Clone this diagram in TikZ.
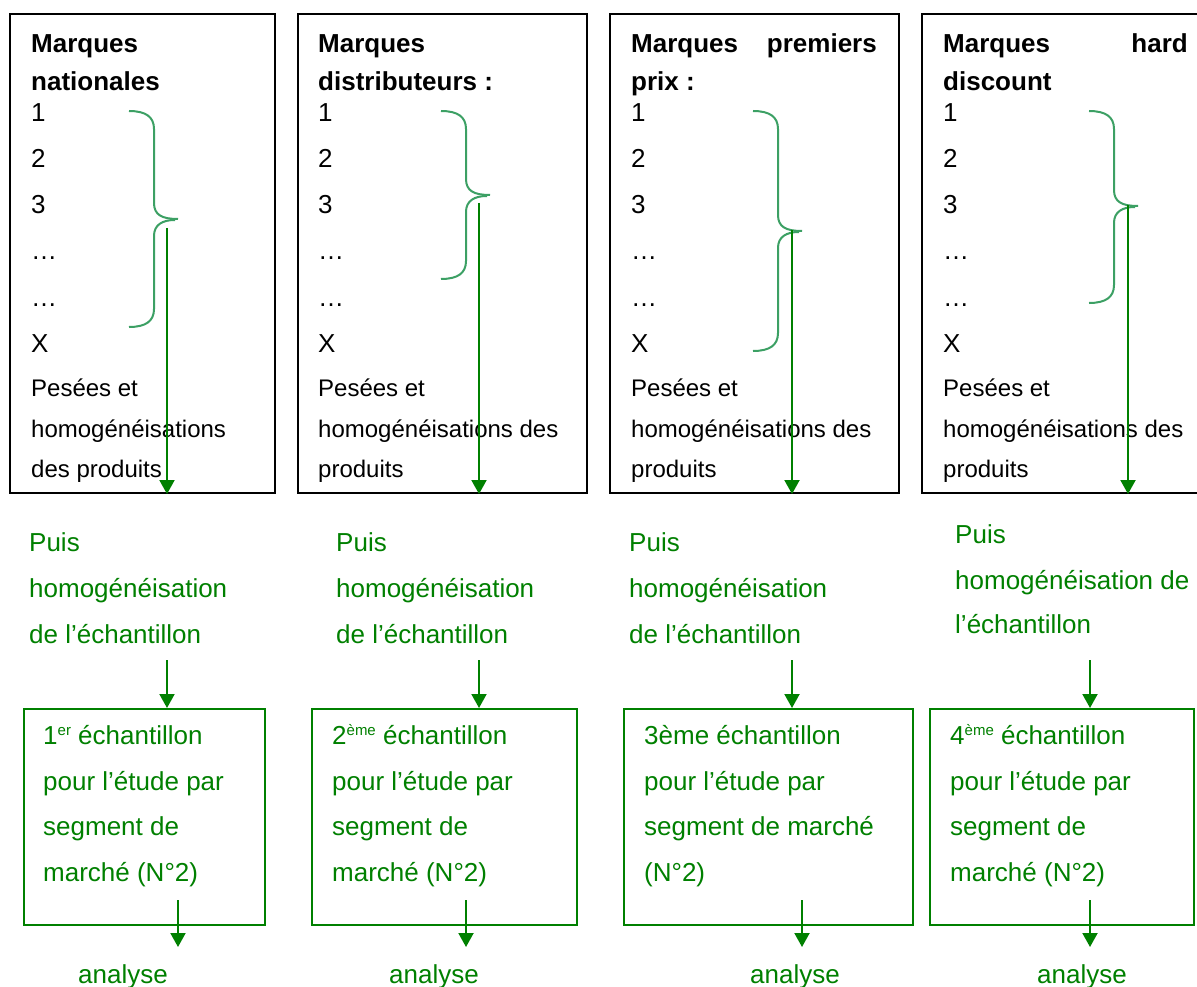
\documentclass[tikz,border=0pt]{standalone}
\usepackage{fontspec}
\setmainfont{Liberation Sans}
\usetikzlibrary{arrows.meta}
\definecolor{arrgreen}{RGB}{0,128,0}
\definecolor{bracegreen}{RGB}{60,160,100}
\newcommand\greenbrace[4]{%
  \draw[brace] (#1,#2) .. controls ({#1+17},#2) and ({#1+25},{#2+6}) .. ({#1+25},{#2+18})
    -- ({#1+25},{#3-16}) .. controls ({#1+25},{#3-4}) and ({#1+33},#3) .. ({#1+49},#3);
  \draw[brace] ({#1+46},{#3+1}) .. controls ({#1+33},{#3+1}) and ({#1+25},{#3+6}) .. ({#1+25},{#3+17})
    -- ({#1+25},{#4-18}) .. controls ({#1+25},{#4-6}) and ({#1+17},#4) .. (#1,#4);
}
\newcommand\supr[1]{\raisebox{9pt}{\fontsize{15}{15}\selectfont #1}}
\tikzset{
  big/.style={font=\fontsize{26}{30}\selectfont, inner sep=0pt, anchor=base west},
  bigb/.style={font=\fontsize{26}{30}\selectfont\bfseries, inner sep=0pt, anchor=base west},
  small/.style={font=\fontsize{24}{28}\selectfont, inner sep=0pt, anchor=base west},
  gtext/.style={big, text=arrgreen},
  topbox/.style={draw=black, line width=2pt, inner sep=0pt, anchor=north west},
  gbox/.style={draw=arrgreen, line width=2pt, inner sep=0pt, anchor=north west},
  flow/.style={draw=arrgreen, line width=2pt, -{Triangle[length=14pt,width=15pt]}},
  brace/.style={draw=bracegreen, line width=2pt},
}
\begin{document}
\begin{tikzpicture}[x=1pt,y=-1pt]
\useasboundingbox (0,0) rectangle (1197,987);
\fill[white] (0,0) rectangle (1197,987);

% top boxes
\node[topbox, minimum width=265pt, minimum height=479pt] (B1) at (9,13) {};
\node[topbox, minimum width=289pt, minimum height=479pt] (B2) at (297,13) {};
\node[topbox, minimum width=289pt, minimum height=479pt] (B3) at (609,13) {};
\node[topbox, minimum width=290pt, minimum height=479pt] (B4) at (921,13) {};

% top box texts
\begin{scope}
\clip (0,0) rectangle (1197,481);
\node[bigb] (t1a) at (31,53) {Marques};
\node[bigb] (t1b) at (31,91) {nationales};
\node[bigb] (t2a) at (318,53) {Marques};
\node[bigb] (t2b) at (318,91) {distributeurs :};
\node[bigb] (t3a) at (631,53) {Marques};
\node[bigb, anchor=base east] (t3c) at (877,53) {premiers};
\node[bigb] (t3b) at (631,91) {prix :};
\node[bigb] (t4a) at (943,53) {Marques};
\node[bigb, anchor=base east] (t4c) at (1188,53) {hard};
\node[bigb] (t4b) at (943,91) {discount};
\foreach \bx/\xx in {1/31,2/318,3/631,4/943}{
  \foreach \i/\lab in {0/1,1/2,2/3,3/…,4/…,5/X}{
    \node[big] (n\bx-\i) at (\xx,{122+46*\i}) {\lab};
  }
  \node[small] (p\bx) at (\xx,396) {Pesées et};
}
\node[small] (h1) at (31,437) {homogénéisations};
\node[small] (d1) at (31,477) {des produits};
\node[small] (h2) at (318,437) {homogénéisations des};
\node[small] (d2) at (318,477) {produits};
\node[small] (h3) at (631,437) {homogénéisations des};
\node[small] (d3) at (631,477) {produits};
\node[small] (h4) at (943,437) {homogénéisations des};
\node[small] (d4) at (943,477) {produits};
\end{scope}

% braces
\greenbrace{129}{111}{219}{327}
\greenbrace{441}{111}{195}{279}
\greenbrace{753}{111}{231}{351}
\greenbrace{1089}{111}{206}{303}

% arrows from braces
\coordinate (s1) at (167,228);
\coordinate (s2) at (479,203);
\coordinate (s3) at (792,230);
\coordinate (s4) at (1128,205);
\draw[flow] (s1) -- (s1 |- B1.south);
\draw[flow] (s2) -- (s2 |- B2.south);
\draw[flow] (s3) -- (s3 |- B3.south);
\draw[flow] (s4) -- (s4 |- B4.south);

% green intermediate texts
\node[gtext] (g1a) at (29,551) {Puis};
\node[gtext] (g1b) at (29,597) {homogénéisation};
\node[gtext] (g1c) at (29,643) {de l’échantillon};
\node[gtext] (g2a) at (336,551) {Puis};
\node[gtext] (g2b) at (336,597) {homogénéisation};
\node[gtext] (g2c) at (336,643) {de l’échantillon};
\node[gtext] (g3a) at (629,551) {Puis};
\node[gtext] (g3b) at (629,597) {homogénéisation};
\node[gtext] (g3c) at (629,643) {de l’échantillon};
\begin{scope}
\clip (900,500) rectangle (1197,636);
\node[gtext] (g4a) at (955,543) {Puis};
\node[gtext] (g4b) at (955,589) {homogénéisation de};
\node[gtext] (g4c) at (955,633) {l’échantillon};
\end{scope}

% green boxes
\node[gbox, minimum width=241pt, minimum height=216pt] (G1) at (23,708) {};
\node[gbox, minimum width=265pt, minimum height=216pt] (G2) at (311,708) {};
\node[gbox, minimum width=289pt, minimum height=216pt] (G3) at (623,708) {};
\node[gbox, minimum width=264pt, minimum height=216pt] (G4) at (929,708) {};

% arrows into green boxes
\coordinate (u1) at (167,660);
\coordinate (u2) at (479,660);
\coordinate (u3) at (792,660);
\coordinate (u4) at (1090,660);
\draw[flow] (u1) -- (u1 |- G1.north);
\draw[flow] (u2) -- (u2 |- G2.north);
\draw[flow] (u3) -- (u3 |- G3.north);
\draw[flow] (u4) -- (u4 |- G4.north);

% green box texts
\node[gtext] (e1a) at (43,744) {1\supr{er} échantillon};
\node[gtext] (e1b) at (43,790) {pour l’étude par};
\node[gtext] (e1c) at (43,835) {segment de};
\node[gtext] (e1d) at (43,881) {marché (N°2)};
\node[gtext] (e2a) at (332,744) {2\supr{ème} échantillon};
\node[gtext] (e2b) at (332,790) {pour l’étude par};
\node[gtext] (e2c) at (332,835) {segment de};
\node[gtext] (e2d) at (332,881) {marché (N°2)};
\node[gtext] (e3a) at (644,744) {3ème échantillon};
\node[gtext] (e3b) at (644,790) {pour l’étude par};
\node[gtext] (e3c) at (644,835) {segment de marché};
\node[gtext] (e3d) at (644,881) {(N°2)};
\node[gtext] (e4a) at (950,744) {4\supr{ème} échantillon};
\node[gtext] (e4b) at (950,790) {pour l’étude par};
\node[gtext] (e4c) at (950,835) {segment de};
\node[gtext] (e4d) at (950,881) {marché (N°2)};

% analyse
\node[gtext] (a1) at (78,983) {analyse};
\node[gtext] (a2) at (389,983) {analyse};
\node[gtext] (a3) at (750,983) {analyse};
\node[gtext] (a4) at (1037,983) {analyse};
\coordinate (v1) at (178,900);
\coordinate (v2) at (466,900);
\coordinate (v3) at (802,900);
\coordinate (v4) at (1090,900);
\coordinate (w1) at (178,947);
\coordinate (w2) at (466,947);
\coordinate (w3) at (802,947);
\coordinate (w4) at (1090,947);
\draw[flow] (v1) -- (w1);
\draw[flow] (v2) -- (w2);
\draw[flow] (v3) -- (w3);
\draw[flow] (v4) -- (w4);
\end{tikzpicture}
\end{document}
